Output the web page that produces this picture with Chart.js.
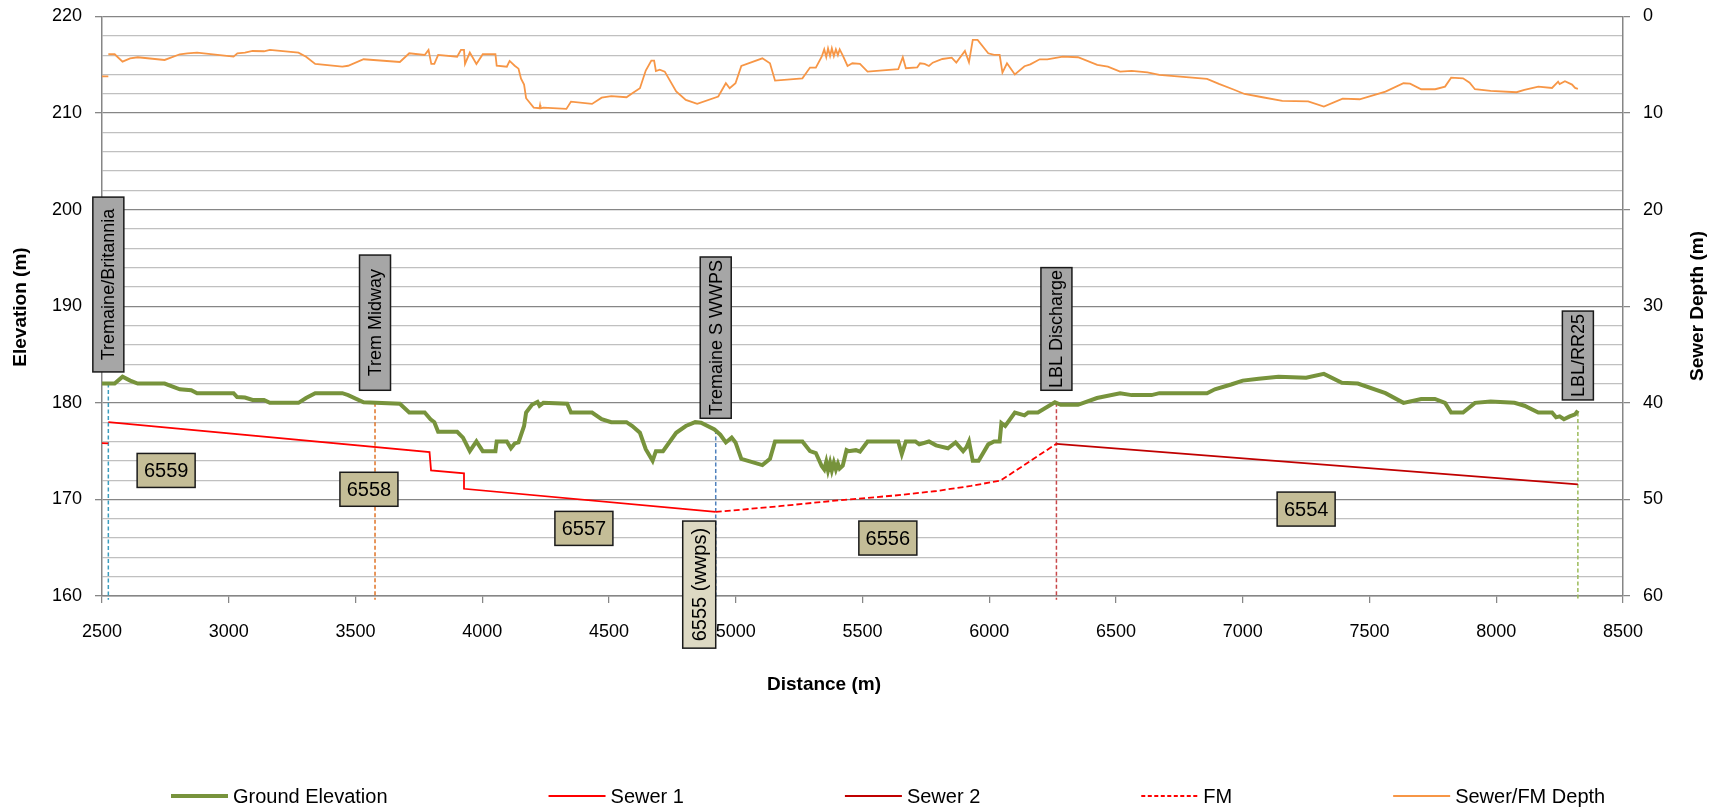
<!DOCTYPE html>
<html>
<head>
<meta charset="utf-8">
<title>Sewer profile - Tremaine to LBL/RR25</title>
<script src="https://cdn.jsdelivr.net/npm/chart.js@4.4.1/dist/chart.umd.min.js"></script>
<style>
  html, body { margin: 0; padding: 0; background: #ffffff; }
  #wrap { width: 1722px; height: 811px; }
</style>
</head>
<body>
<div id="wrap"><canvas id="chart" width="1722" height="811"></canvas></div>
<script>
// ---- data ----

// ground elevation along the route (m)
const groundDist = [
  2500, 2550, 2581, 2611, 2641, 2747, 2807, 2852, 2875, 3019, 3033, 3064, 3094, 3139, 3162,
  3275, 3305, 3341, 3448, 3471, 3532, 3675, 3712, 3773, 3796, 3811, 3826, 3901, 3924, 3951,
  3977, 4002, 4052, 4057, 4097, 4113, 4128, 4143, 4165, 4173, 4196, 4218, 4226, 4241, 4335,
  4350, 4433, 4471, 4509, 4569, 4592, 4622, 4645, 4672, 4685, 4713, 4765, 4803, 4840, 4863,
  4916, 4939, 4961, 4984, 4999, 5022, 5105, 5135, 5155, 5263, 5293, 5316, 5339, 5349, 5357,
  5364, 5372, 5379, 5387, 5395, 5403, 5410, 5422, 5437, 5445, 5474, 5490, 5520, 5641, 5655,
  5671, 5709, 5724, 5762, 5790, 5837, 5867, 5897, 5910, 5920, 5935, 5958, 5996, 6019, 6041,
  6048, 6063, 6101, 6139, 6154, 6192, 6259, 6282, 6350, 6425, 6516, 6562, 6640, 6671, 6859,
  6890, 6954, 7000, 7063, 7141, 7250, 7320, 7391, 7454, 7563, 7634, 7704, 7758, 7798, 7822,
  7869, 7916, 7978, 8072, 8111, 8166, 8220, 8236, 8250, 8267, 8290, 8311, 8322
];
const groundElev = [
  182.0, 182.0, 182.7, 182.3, 182.0, 182.0, 181.4, 181.3, 181.0, 181.0, 180.6, 180.55, 180.3, 180.3, 180.0,
  180.0, 180.5, 181.0, 181.0, 180.8, 180.05, 179.9, 179.0, 179.0, 178.3, 178.0, 177.0, 177.0, 176.4, 175.0,
  176.0, 175.0, 175.0, 176.0, 176.0, 175.3, 175.8, 175.9, 177.6, 179.0, 179.8, 180.1, 179.7, 180.0, 179.9,
  179.0, 179.0, 178.3, 178.0, 178.0, 177.6, 176.9, 175.2, 174.0, 175.0, 175.0, 176.9, 177.6, 178.0, 177.95,
  177.24, 176.7, 175.9, 176.4, 175.9, 174.2, 173.55, 174.2, 176.0, 176.0, 175.0, 174.8, 173.45, 173.1, 173.9,
  173.0, 173.8, 173.0, 173.8, 173.1, 173.7, 173.2, 173.5, 175.1, 175.0, 175.1, 174.95, 176.0, 176.0, 174.7,
  176.0, 176.0, 175.7, 176.0, 175.6, 175.3, 175.9, 175.0, 175.4, 176.0, 174.0, 174.0, 175.7, 176.0, 176.0,
  177.9, 177.6, 179.0, 178.7, 179.0, 179.0, 180.05, 179.8, 179.8, 180.5, 181.0, 180.8, 180.8, 181.0, 181.0,
  181.4, 181.9, 182.3, 182.5, 182.7, 182.6, 183.0, 182.07, 182.0, 181.0, 180.0, 180.4, 180.4, 180.0, 179.0,
  179.0, 180.0, 180.15, 180.0, 179.7, 179.0, 179.0, 178.5, 178.6, 178.3, 178.6, 178.8, 179.2
];

// gravity sewer inverts (m), null breaks the line
const sewer1Dist = [2400, 2525, 2525, 2525, 3792, 3798, 3928, 3928, 4921];
const sewer1Elev = [175.9, 175.8, null, 178.0, 174.9, 173.0, 172.7, 171.1, 168.7];

const sewer2Dist = [6265, 8322];
const sewer2Elev = [175.76, 171.55];

// force main from the pumping station
const fmDist = [4921, 5173, 5414, 5626, 5792, 5928, 6045, 6265];
const fmElev = [168.7, 169.3, 169.93, 170.4, 170.87, 171.4, 171.96, 175.76];

// depth of sewer / FM below ground (m, right axis)
const depthDist = [
  2400, 2525, 2525, 2525, 2550, 2581, 2611, 2641, 2747, 2807, 2837, 2875, 3019, 3034, 3064,
  3094, 3139, 3162, 3275, 3305, 3341, 3448, 3471, 3532, 3675, 3712, 3773, 3788, 3799, 3811,
  3826, 3901, 3916, 3928, 3932, 3951, 3977, 4002, 4052, 4057, 4097, 4108, 4128, 4143, 4153,
  4165, 4173, 4203, 4226, 4228, 4230, 4241, 4332, 4350, 4433, 4471, 4509, 4569, 4592, 4622,
  4645, 4667, 4678, 4685, 4700, 4720, 4765, 4803, 4848, 4931, 4961, 4976, 4999, 5022, 5105,
  5135, 5155, 5263, 5293, 5316, 5339, 5349, 5357, 5364, 5372, 5379, 5387, 5395, 5403, 5410,
  5422, 5441, 5460, 5490, 5520, 5641, 5659, 5671, 5716, 5727, 5745, 5762, 5777, 5815, 5852,
  5870, 5904, 5920, 5935, 5954, 5996, 6019, 6041, 6052, 6070, 6101, 6139, 6162, 6199, 6229,
  6290, 6350, 6426, 6468, 6516, 6562, 6624, 6671, 6859, 6906, 6961, 7007, 7078, 7156, 7258,
  7320, 7394, 7461, 7563, 7634, 7660, 7704, 7759, 7798, 7822, 7869, 7895, 7916, 7978, 8080,
  8111, 8166, 8220, 8244, 8250, 8271, 8299, 8311, 8322
];
const depthVal = [
  6.2, 6.2, null, 3.91, 3.91, 4.67, 4.33, 4.22, 4.5, 3.91, 3.81, 3.74, 4.16, 3.81, 3.74,
  3.57, 3.6, 3.46, 3.74, 4.16, 4.91, 5.19, 5.1, 4.43, 4.71, 3.81, 3.98, 3.46, 4.91, 4.91,
  3.98, 4.16, 3.46, 3.46, 4.91, 3.74, 4.91, 3.91, 3.91, 5.1, 5.2, 4.6, 5.1, 5.4, 6.43,
  7.05, 8.46, 9.43, 9.5, 9.2, 9.5, 9.43, 9.57, 8.81, 9.05, 8.4, 8.24, 8.36, 7.95, 7.43,
  5.6, 4.57, 4.57, 5.64, 5.5, 5.71, 7.77, 8.64, 9.05, 8.29, 6.91, 7.43, 6.91, 5.12, 4.33,
  4.84, 6.64, 6.4, 5.29, 5.29, 4.16, 3.4, 4.2, 3.3, 4.1, 3.3, 4.1, 3.4, 4.0, 3.4,
  4.02, 5.12, 4.84, 4.91, 5.71, 5.46, 4.22, 5.36, 5.26, 4.84, 4.91, 5.12, 4.78, 4.4, 4.26,
  4.77, 3.57, 4.74, 2.43, 2.43, 3.81, 3.98, 3.98, 5.81, 4.84, 6.0, 5.15, 4.95, 4.43, 4.43,
  4.16, 4.22, 5.0, 5.19, 5.71, 5.64, 5.78, 6.05, 6.46, 6.98, 7.53, 8.02, 8.36, 8.74, 8.78,
  9.33, 8.5, 8.57, 7.77, 6.91, 6.95, 7.53, 7.53, 7.26, 6.33, 6.4, 6.85, 7.53, 7.71, 7.84,
  7.6, 7.26, 7.4, 6.74, 7.0, 6.71, 7.05, 7.4, 7.5
];

// stations (manholes / pumping station) and the ground level where the marker starts
const stationNames = ['Tremaine/Britannia', 'Trem Midway', 'Tremaine S WWPS', 'LBL Discharge', 'LBL/RR25'];
const stationDist = [2525, 3577, 4921, 6265, 8322];
const stationGround = [182.0, 180.0, 177.2, 180.0, 179.0];

// pipe segment ids
const pipeIds = ['6559', '6558', '6557', '6556', '6554'];
const pumpLabel = '6555 (wwps)';

// axis ticks
const xMin = 2500, xMax = 8500, xStep = 500;
const elevMin = 160, elevMax = 220;
const depthMin = 0, depthMax = 60;

// ---- styles / annotation placement ----
const FONT = '"Liberation Sans", Arial, sans-serif';
const AXIS = '#868686';
const MINOR = '#C0C0C0';
const GREEN = '#77933C';
const RED = '#FF0000';
const DARK_RED = '#C00000';
const ORANGE = '#F79646';
const stationColors = ['#3C9DBE', '#E07428', '#4F81BD', '#C8484A', '#9BBB59'];
// elevation span of each grey station label (top, bottom)
const stationBoxTop = [201.3, 195.3, 195.1, 194.0, 189.5];
const stationBoxBottom = [183.2, 181.3, 178.4, 181.3, 180.3];
// centre of each pipe id box (distance, elevation)
const pipeBoxDist = [2753, 3553, 4401, 5600, 7250];
const pipeBoxElev = [173.0, 171.05, 167.0, 166.0, 169.0];
const pumpBox = { right: 4921, top: 167.76, bottom: 154.6, width: 33 };

const pts = (xs, ys) => xs.map((x, i) => ({ x: x, y: ys[i] }));

const datasets = [
  { label: 'Sewer/FM Depth', data: pts(depthDist, depthVal), yAxisID: 'y2',
    borderColor: ORANGE, borderWidth: 1.8, order: 0 },
  { label: 'Ground Elevation', data: pts(groundDist, groundElev), yAxisID: 'y',
    borderColor: GREEN, borderWidth: 4, order: 1 },
  { label: 'Sewer 1', data: pts(sewer1Dist, sewer1Elev), yAxisID: 'y',
    borderColor: RED, borderWidth: 1.8, order: 2 },
  { label: 'Sewer 2', data: pts(sewer2Dist, sewer2Elev), yAxisID: 'y',
    borderColor: DARK_RED, borderWidth: 1.8, order: 3 },
  { label: 'FM', data: pts(fmDist, fmElev), yAxisID: 'y',
    borderColor: RED, borderWidth: 1.8, borderDash: [6, 3], order: 4 }
];

// vertical dashed station markers, from ground down just past the axis
stationDist.forEach((d, i) => {
  datasets.push({
    label: stationNames[i], data: [{ x: d, y: stationGround[i] }, { x: d, y: elevMin - 0.4 }],
    yAxisID: 'y', borderColor: stationColors[i], borderWidth: 1.5, borderDash: [4, 2.5],
    order: 5, clip: false
  });
});

const legendItems = [
  { label: 'Ground Elevation', color: GREEN, width: 4, dash: [] },
  { label: 'Sewer 1', color: RED, width: 1.8, dash: [] },
  { label: 'Sewer 2', color: DARK_RED, width: 2, dash: [] },
  { label: 'FM', color: RED, width: 1.8, dash: [4, 2.5] },
  { label: 'Sewer/FM Depth', color: ORANGE, width: 2, dash: [] }
];

function box(ctx, x, y, w, h, fill) {
  ctx.fillStyle = fill;
  ctx.fillRect(x, y, w, h);
  ctx.lineWidth = 1.5;
  ctx.strokeStyle = '#1A1A1A';
  ctx.strokeRect(x, y, w, h);
}

function vText(ctx, text, cx, cy, font) {
  ctx.save();
  ctx.translate(cx, cy);
  ctx.rotate(-Math.PI / 2);
  ctx.font = font;
  ctx.fillStyle = '#000000';
  ctx.textAlign = 'center';
  ctx.textBaseline = 'middle';
  ctx.fillText(text, 0, 1);
  ctx.restore();
}

const overlay = {
  id: 'overlay',
  afterDraw(chart) {
    const ctx = chart.ctx;
    const xs = chart.scales.x, ys = chart.scales.y;
    ctx.save();

    // grey station labels
    stationNames.forEach((name, i) => {
      const cx = xs.getPixelForValue(stationDist[i]);
      const top = ys.getPixelForValue(stationBoxTop[i]);
      const bot = ys.getPixelForValue(stationBoxBottom[i]);
      box(ctx, cx - 15.5, top, 31, bot - top, '#A6A6A6');
      vText(ctx, name, cx, (top + bot) / 2, '18px ' + FONT);
    });

    // pipe id boxes
    pipeIds.forEach((id, i) => {
      const cx = xs.getPixelForValue(pipeBoxDist[i]);
      const cy = ys.getPixelForValue(pipeBoxElev[i]);
      box(ctx, cx - 29, cy - 17, 58, 34, '#C4BD97');
      ctx.font = '20px ' + FONT;
      ctx.fillStyle = '#000000';
      ctx.textAlign = 'center';
      ctx.textBaseline = 'middle';
      ctx.fillText(id, cx, cy + 1);
    });

    // pumping station box (vertical)
    const pr = xs.getPixelForValue(pumpBox.right);
    const pt = ys.getPixelForValue(pumpBox.top);
    const pb = ys.getPixelForValue(pumpBox.bottom);
    box(ctx, pr - pumpBox.width, pt, pumpBox.width, pb - pt, '#DDD9C3');
    vText(ctx, pumpLabel, pr - pumpBox.width / 2, (pt + pb) / 2, '20px ' + FONT);

    // axis titles
    ctx.fillStyle = '#000000';
    ctx.font = 'bold 19px ' + FONT;
    ctx.textAlign = 'center';
    ctx.textBaseline = 'middle';
    ctx.fillText('Distance (m)', 824, 685);
    vText(ctx, 'Elevation (m)', 20, 307, 'bold 19px ' + FONT);
    vText(ctx, 'Sewer Depth (m)', 1697, 306, 'bold 19px ' + FONT);

    // legend
    ctx.font = '20px ' + FONT;
    let lx = 171;
    const ly = 796;
    legendItems.forEach(item => {
      ctx.beginPath();
      ctx.setLineDash(item.dash);
      ctx.strokeStyle = item.color;
      ctx.lineWidth = item.width;
      ctx.moveTo(lx, ly);
      ctx.lineTo(lx + 57, ly);
      ctx.stroke();
      ctx.setLineDash([]);
      ctx.fillStyle = '#000000';
      ctx.textAlign = 'left';
      ctx.textBaseline = 'middle';
      ctx.fillText(item.label, lx + 62, ly + 1);
      lx += 62 + ctx.measureText(item.label).width + 161;
    });
    ctx.restore();
  }
};

const tickFont = { family: FONT, size: 18 };

// fixed axis widths, and no extra label overhang so the plot top sits where it should
const fitY = w => s => { s.width = w; s.paddingTop = 0; s.paddingBottom = 0; };

new Chart(document.getElementById('chart'), {
  type: 'line',
  data: { datasets: datasets },
  options: {
    responsive: false,
    animation: false,
    devicePixelRatio: 1,
    spanGaps: false,
    layout: { padding: { top: 16.5, left: 0, right: 0, bottom: 0 } },
    elements: { point: { radius: 0, hoverRadius: 0 }, line: { tension: 0 } },
    plugins: { legend: { display: false }, tooltip: { enabled: false } },
    scales: {
      x: {
        type: 'linear', min: xMin, max: xMax,
        ticks: { stepSize: xStep, color: '#000000', font: tickFont, padding: 18,
                 maxRotation: 0, autoSkip: false, callback: v => String(v) },
        grid: { drawOnChartArea: false, drawTicks: true, tickLength: 7, color: AXIS, lineWidth: 1.25 },
        border: { color: AXIS, width: 1.5 },
        afterFit: s => { s.height = 215; s.paddingLeft = 0; s.paddingRight = 0; }
      },
      y: {
        type: 'linear', position: 'left', min: elevMin, max: elevMax,
        ticks: { stepSize: 2, color: '#000000', font: tickFont, padding: 13, autoSkip: false,
                 callback: v => (v % 10 === 0 ? String(v) : '') },
        grid: {
          drawTicks: true, tickLength: 7,
          color: c => (c.tick && c.tick.value % 10 === 0 ? AXIS : MINOR),
          tickColor: c => (c.tick && c.tick.value % 10 === 0 ? AXIS : 'rgba(0,0,0,0)'),
          lineWidth: c => (c.tick && c.tick.value % 10 === 0 ? 1.3 : 1.2)
        },
        border: { color: AXIS, width: 1.5 },
        afterFit: fitY(102)
      },
      y2: {
        type: 'linear', position: 'right', reverse: true, min: depthMin, max: depthMax,
        ticks: { stepSize: 10, color: '#000000', font: tickFont, padding: 13, callback: v => String(v) },
        grid: { drawOnChartArea: false, drawTicks: true, tickLength: 7, color: AXIS, lineWidth: 1.25 },
        border: { color: AXIS, width: 1.5 },
        afterFit: fitY(99)
      }
    }
  },
  plugins: [overlay]
});
</script>
</body>
</html>
